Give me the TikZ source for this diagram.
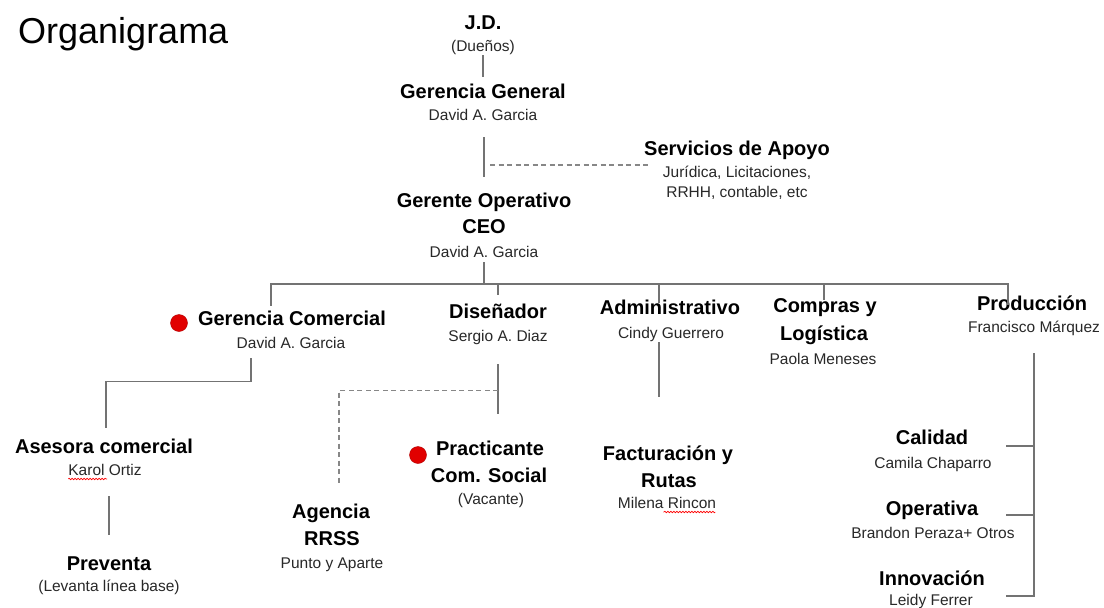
\documentclass[tikz,border=0pt]{standalone}
\usepackage{fontspec}
\setmainfont{Liberation Sans}
\usetikzlibrary{calc,decorations.pathmorphing}
\definecolor{linegray}{RGB}{115,115,115}
\definecolor{dashgray}{RGB}{135,135,135}
\definecolor{namegray}{RGB}{40,40,40}
\definecolor{dotred}{RGB}{225,0,0}
\tikzset{
  ttl/.style={anchor=base,inner sep=0pt,text height=15pt,text depth=4pt,
    font=\fontsize{20}{24}\selectfont\bfseries},
  nm/.style={anchor=base,inner sep=0pt,text height=11pt,text depth=3pt,
    text=namegray,font=\fontsize{15.5}{18}\selectfont},
  conn/.style={draw=linegray,line width=1.1pt},
  dashl/.style={draw=dashgray,line width=1.1pt,dash pattern=on 5pt off 3.5pt},
  reddot/.style={circle,fill=dotred,draw=dotred!80!black,line width=0.4pt,
    minimum size=17pt,inner sep=0pt},
  squig/.style={draw=red,line width=0.6pt,decorate,
    decoration={snake,amplitude=0.8pt,segment length=3pt}}
}
\begin{document}
\begin{tikzpicture}[x=1pt,y=-1pt]
\useasboundingbox[fill=white] (0,0) rectangle (1104,608);

\node[anchor=base west,inner sep=0pt,font=\fontsize{36}{40}\selectfont] (title) at (18,43) {Organigrama};

% top chain
\node[ttl] (jd)  at (483,29) {J.D.};
\node[nm]  (jdn) at (483,51) {(Dueños)};
\node[ttl] (gg)  at (483,98) {Gerencia General};
\node[nm]  (ggn) at (483,120) {David A. Garcia};
\node[ttl] (sa)  at (737,155) {Servicios de Apoyo};
\node[nm]  (sa1) at (737,177) {Jurídica, Licitaciones,};
\node[nm]  (sa2) at (737,197) {RRHH, contable, etc};
\node[ttl] (go)  at (484,207) {Gerente Operativo};
\node[ttl] (go2) at (484,233) {CEO};
\node[nm]  (go3) at (484,257) {David A. Garcia};

% second level
\node[ttl] (gc)  at (292,325) {Gerencia Comercial};
\node[nm]  (gcn) at (291,348) {David A. Garcia};
\node[reddot] (dot1) at (179,323) {};
\node[ttl] (dis)  at (498,318) {Diseñador};
\node[nm]  (disn) at (498,341) {Sergio A. Diaz};
\node[ttl] (adm)  at (670,314) {Administrativo};
\node[nm]  (admn) at (671,338) {Cindy Guerrero};
\node[ttl] (comp) at (825,312) {Compras y};
\node[ttl] (comp2) at (824,340) {Logística};
\node[nm]  (compn) at (823,364) {Paola Meneses};
\node[ttl] (pr)  at (1032,310) {Producción};
\node[nm]  (prn) at (1034,332) {Francisco Márquez};

% third level
\node[ttl] (as)  at (104,453) {Asesora comercial};
\node[nm]  (asn) at (105,475) {Karol Ortiz};
\node[ttl] (pv)  at (109,570) {Preventa};
\node[nm]  (pvn) at (109,591) {(Levanta línea base)};
\node[ttl] (ag)  at (331,518) {Agencia};
\node[ttl] (ag2) at (332,545) {RRSS};
\node[nm]  (agn) at (332,568) {Punto y Aparte};
\node[ttl] (pc)  at (490,455) {Practicante};
\node[ttl] (pc2) at (489,482) {Com. Social};
\node[nm]  (pcn) at (491,504) {(Vacante)};
\node[reddot] (dot2) at (418,455) {};
\node[ttl] (fa)  at (668,460) {Facturación y};
\node[ttl] (fa2) at (669,487) {Rutas};
\node[nm]  (fan) at (667,508) {Milena Rincon};
\node[ttl] (cal) at (932,444) {Calidad};
\node[nm]  (caln) at (933,468) {Camila Chaparro};
\node[ttl] (op)  at (932,515) {Operativa};
\node[nm]  (opn) at (933,538) {Brandon Peraza+ Otros};
\node[ttl] (inn) at (932,585) {Innovación};
\node[nm]  (innn) at (931,605) {Leidy Ferrer};

% spell-check marks
\draw[squig] ([yshift=-4pt]asn.base west) -- ++(39,0);
\draw[squig] ([xshift=-1pt,yshift=-4pt]fan.base east) -- ++(-52,0);

% connectors
\coordinate (bus) at (484,284);
\coordinate (trk) at (484,165);
\coordinate (bx) at (1006,0);

\draw[conn] ([yshift=-1pt]jdn.south) -- ([yshift=6pt]gg.north);
\draw[conn] ([yshift=-14pt]ggn.south -| go.north) -- ([yshift=15pt]go.north);
\draw[dashl] ([xshift=6pt]trk) -- ([xshift=-15pt]trk -| sa1.west);
\draw[conn] ([yshift=-2pt]go3.south) -- (bus);

\draw[conn] ([xshift=-21pt,yshift=4pt]gc.north) |- (bus) -| ([xshift=-24pt,yshift=-10pt]pr.north);
\draw[conn] (dis.north |- bus) -- ([yshift=8pt]dis.north);
\draw[conn] ([xshift=-11pt]adm.north |- bus) -- ([xshift=-11pt,yshift=-4pt]adm.north);
\draw[conn] ([xshift=-1pt]comp.north |- bus) -- ([xshift=-1pt,yshift=-3pt]comp.north);

\draw[conn] ([xshift=-40pt,yshift=-7pt]gcn.south) -- ++(0,23) -| ([xshift=2pt,yshift=10pt]as.north);
\draw[conn] ([yshift=-18pt]asn.south -| pv.north) -- ([yshift=20pt]pv.north);

\draw[conn] ([yshift=-20pt]disn.south) -- ([yshift=26pt]pc.north -| disn.south);
\draw[dashl] ([yshift=-46pt]disn.south) -| ([xshift=8pt,yshift=20pt]ag.north);

\draw[conn] ([xshift=-12pt,yshift=-1pt]admn.south) -- ++(0,55);

\draw[conn] ([yshift=-18pt]prn.south) -- ([yshift=-11pt]inn.base -| prn.south) -- ([yshift=-11pt]inn.base -| bx);
\draw[conn] ([yshift=-2pt]cal.base -| bx) -- ([yshift=-2pt]cal.base -| prn.south);
\draw[conn] (op.base -| bx) -- (op.base -| prn.south);
\end{tikzpicture}
\end{document}
